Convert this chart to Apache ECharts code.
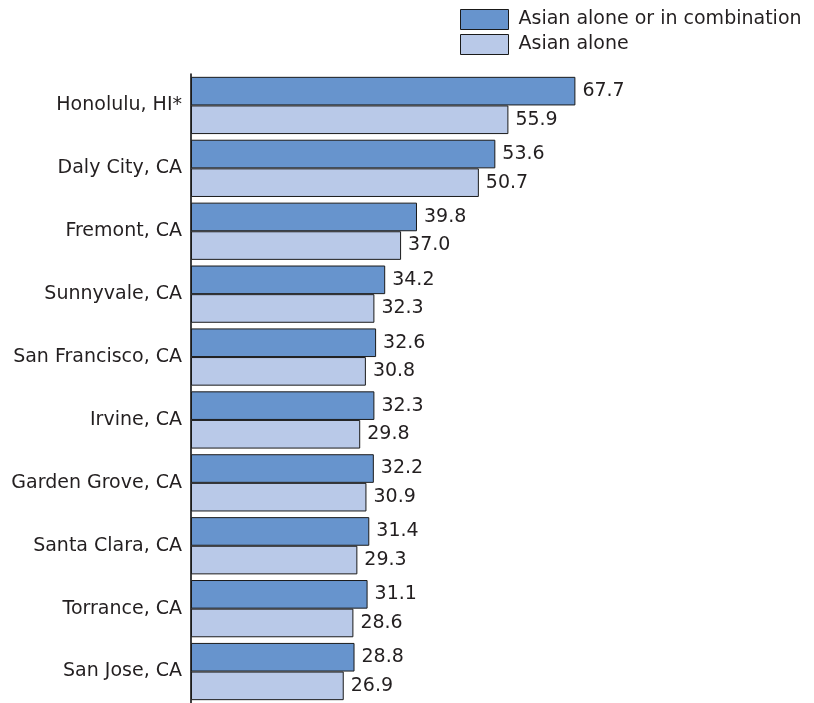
<!DOCTYPE html>
<html>
<head>
<meta charset="utf-8">
<script src="https://cdn.jsdelivr.net/npm/echarts@6/dist/echarts.min.js"></script>
<style>
  html, body { margin: 0; padding: 0; background: #fff; }
  #main { width: 814px; height: 703px; }
</style>
</head>
<body>
<div id="main"></div>
<script>
var cities = ['Honolulu, HI*', 'Daly City, CA', 'Fremont, CA', 'Sunnyvale, CA', 'San Francisco, CA',
    'Irvine, CA', 'Garden Grove, CA', 'Santa Clara, CA', 'Torrance, CA', 'San Jose, CA'];
var inCombination = [67.7, 53.6, 39.8, 34.2, 32.6, 32.3, 32.2, 31.4, 31.1, 28.8];
var aloneOnly = [55.9, 50.7, 37.0, 32.3, 30.8, 29.8, 30.9, 29.3, 28.6, 26.9];

var textColor = '#231f20';
var font = '"DejaVu Sans", sans-serif';

var myChart = echarts.init(document.getElementById('main'));

function barLabel() {
    return {
        show: true,
        position: 'right',
        distance: 7,
        color: textColor,
        fontSize: 19,
        fontFamily: font,
        formatter: function (p) { return p.value.toFixed(1); }
    };
}

myChart.setOption({
    animation: false,
    backgroundColor: '#fff',
    legend: {
        orient: 'vertical',
        left: 460,
        top: 9,
        padding: 0,
        itemWidth: 48,
        itemHeight: 20,
        itemGap: 4,
        icon: 'rect',
        itemStyle: { borderWidth: 1 },
        textStyle: { color: textColor, fontSize: 19, fontFamily: font, padding: [0, 0, 0, 5] },
        data: ['Asian alone or in combination', 'Asian alone']
    },
    grid: { left: 191, top: 74, width: 567.8, height: 632 },
    xAxis: {
        type: 'value', min: 0, max: 100,
        show: false
    },
    yAxis: {
        type: 'category',
        inverse: true,
        data: cities,
        axisLine: { show: true, lineStyle: { color: '#000', width: 1.5 } },
        axisTick: { show: false },
        axisLabel: { color: textColor, fontSize: 19, fontFamily: font, margin: 9, padding: [8, 0, 0, 0] }
    },
    series: [{
        name: 'Asian alone or in combination',
        type: 'bar',
        data: inCombination,
        barGap: '0%',
        barCategoryGap: '9%',
        itemStyle: { color: '#6794cd', borderColor: '#1a1a1a', borderWidth: 1 },
        label: barLabel()
    }, {
        name: 'Asian alone',
        type: 'bar',
        data: aloneOnly,
        itemStyle: { color: '#b9c9e8', borderColor: '#1a1a1a', borderWidth: 1 },
        label: barLabel()
    }]
});
</script>
</body>
</html>
